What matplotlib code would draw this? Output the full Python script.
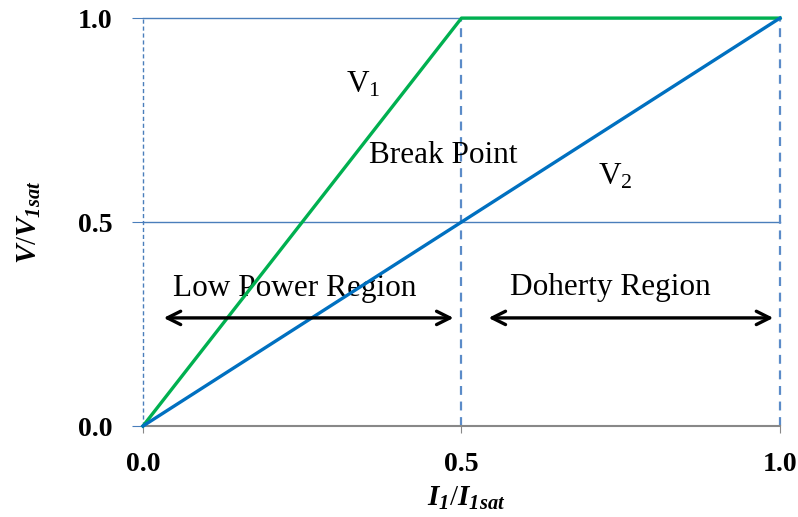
import matplotlib.pyplot as plt

plt.rcParams['font.family'] = 'Liberation Serif'
plt.rcParams['mathtext.fontset'] = 'custom'
plt.rcParams['mathtext.rm'] = 'Liberation Serif'
plt.rcParams['mathtext.it'] = 'Liberation Serif:italic:bold'
plt.rcParams['mathtext.sf'] = 'Liberation Serif:italic:bold'
plt.rcParams['mathtext.bf'] = 'Liberation Serif:bold'

# Normalised current and voltages of the two amplifiers
i1 = [0.0, 0.5, 1.0]
v1 = [0.0, 1.0, 1.0]
v2 = [0.0, 0.5, 1.0]

x_ticks = [0.0, 0.5, 1.0]
y_ticks = [0.0, 0.5, 1.0]
tick_labels = ['0.0', '0.5', '1.0']

green = '#00B050'
blue = '#0070C0'
grid_blue = '#4A7EBB'
dash_blue = '#5B8BC8'

fig = plt.figure(figsize=(7.98, 5.17), dpi=100)
ax = fig.add_axes([0.1792, 0.176, 0.7982, 0.789])

# horizontal grid and vertical dashed guides
for y in y_ticks[1:]:
    ax.plot([0, 1], [y, y], color=grid_blue, lw=1.0, zorder=1, clip_on=False)
ax.plot([0, 0], [0, 1], color=grid_blue, lw=1.0, ls=(0, (3, 2)), zorder=1, clip_on=False)
for x in x_ticks[1:]:
    ax.plot([x, x], [0, 1], color=dash_blue, lw=1.6, ls=(0, (4, 3)), zorder=1, clip_on=False)

ax.plot(i1, v1, color=green, lw=2.4, zorder=3, clip_on=False)
ax.plot(i1, v2, color=blue, lw=2.4, zorder=3, clip_on=False)

ax.set_xlim(0, 1)
ax.set_ylim(0, 1)
ax.set_xticks(x_ticks)
ax.set_yticks(y_ticks)
ax.set_xticklabels(tick_labels, fontsize=20, fontweight='bold')
ax.set_yticklabels(tick_labels, fontsize=20, fontweight='bold')
ax.tick_params(axis='y', length=8, color=grid_blue, pad=14)
ax.tick_params(axis='x', length=5, color='#888888', pad=14)

for side in ['top', 'right', 'left']:
    ax.spines[side].set_visible(False)
ax.spines['bottom'].set_color('#888888')
ax.spines['bottom'].set_linewidth(1.5)

ax.set_xlabel(r'$I_{\mathsf{1}}/I_{\mathsf{1sat}}$', fontsize=21)
ax.xaxis.set_label_coords(0.508, -0.143)
ax.set_ylabel(r'$V/V_{\mathsf{1sat}}$', fontsize=21, labelpad=25)

txt = dict(fontsize=22.5, ha='center', va='center', zorder=2)
ax.text(0.345, 0.836, r'$\mathrm{V}_1$', **txt)
ax.text(0.742, 0.610, r'$\mathrm{V}_2$', **txt)
ax.text(0.471, 0.662, 'Break Point', **txt)
ax.text(0.239, 0.338, 'Low Power Region', **txt)
ax.text(0.733, 0.340, 'Doherty Region', **txt)

arrow = dict(arrowstyle='<->', color='black', lw=2.4, mutation_scale=24)
ax.annotate('', xy=(0.028, 0.265), xytext=(0.492, 0.265), arrowprops=arrow)
ax.annotate('', xy=(0.538, 0.265), xytext=(0.994, 0.265), arrowprops=arrow)

fig.savefig('out.png', dpi=100)
